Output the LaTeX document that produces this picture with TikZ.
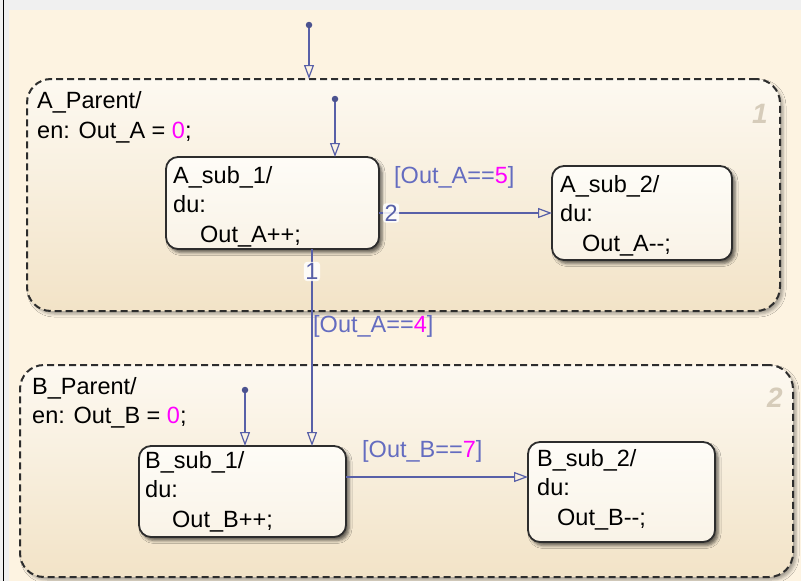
\documentclass[tikz,border=0pt]{standalone}
\usepackage{fontspec}
\setmainfont{Liberation Sans}
\usetikzlibrary{arrows.meta,shadows.blur}
\definecolor{bgcream}{RGB}{253,243,225}
\definecolor{bandgray}{RGB}{240,240,240}
\definecolor{ptop}{RGB}{253,249,241}
\definecolor{pbot}{RGB}{242,227,199}
\definecolor{stop}{RGB}{254,252,247}
\definecolor{sbot}{RGB}{249,243,231}
\definecolor{edge}{RGB}{45,45,45}
\definecolor{transc}{RGB}{88,96,168}
\definecolor{lblc}{RGB}{100,108,192}
\definecolor{mag}{RGB}{255,0,255}
\definecolor{ordnum}{RGB}{214,204,186}
\begin{document}
\begin{tikzpicture}[x=1pt,y=-1pt,
  every node/.style={font=\fontsize{23.5}{29.5}\selectfont},
  parentbox/.style 2 args={draw=edge, line width=2pt, dash pattern=on 7pt off 4pt,
    rounded corners=24pt, top color=ptop, bottom color=pbot, anchor=north west,
    inner sep=0pt, outer sep=0pt, minimum width=#1, minimum height=#2,
    blur shadow={shadow xshift=3pt, shadow yshift=-3pt, shadow blur radius=3pt, shadow opacity=35}},
  subbox/.style 2 args={draw=edge, line width=1.8pt, rounded corners=12pt,
    top color=stop, bottom color=sbot, anchor=north west,
    inner sep=0pt, outer sep=0pt, minimum width=#1, minimum height=#2,
    blur shadow={shadow xshift=3pt, shadow yshift=-3.5pt, shadow blur radius=3pt, shadow opacity=60}},
  txt/.style={anchor=base west, inner sep=0pt, text=black},
  lbl/.style={anchor=base west, inner sep=0pt, text=lblc},
  numlbl/.style={fill=white, fill opacity=0.85, text opacity=1, text=transc, inner sep=1.5pt, rounded corners=3pt},
  ordn/.style={font=\fontsize{28}{28}\selectfont\bfseries\itshape, text=ordnum, inner sep=0pt},
  dotnode/.style={circle, fill=transc!85!black, inner sep=0pt, minimum size=6.5pt},
  trans/.style={draw=transc, line width=1.3pt, -{Triangle[open, length=14pt, width=10pt, line width=1.2pt]}},
]
\useasboundingbox (0,0) rectangle (801,581);
\fill[bandgray] (0,0) rectangle (801,581);
\fill[bgcream] (9,10) rectangle (801,581);
\draw[black, line width=1.2pt] (3.6,0) -- (3.6,581);

% parents
\node[parentbox={753pt}{232pt}] (Ap) at (27,79) {};
\node[parentbox={773pt}{212pt}] (Bp) at (20,365) {};
\node[ordn] (o1) at (760,114) {1};
\node[ordn] (o2) at (775,398) {2};

% substates
\node[subbox={213pt}{92pt}] (As1) at (166,157) {};
\node[subbox={180pt}{94pt}] (As2) at (552,166) {};
\node[subbox={207pt}{91pt}] (Bs1) at (139,446) {};
\node[subbox={187pt}{100pt}] (Bs2) at (528,442) {};

% texts
\node[txt] (tAp) at (37,108) {\begin{tabular}[t]{@{}l@{}}A\_Parent/\\[0.5pt]en: Out\_A = \textcolor{mag}{0};\end{tabular}};
\node[txt] (tBp) at (32,394) {\begin{tabular}[t]{@{}l@{}}B\_Parent/\\en: Out\_B = \textcolor{mag}{0};\end{tabular}};
\node[txt] (tAs1) at (173,183) {\begin{tabular}[t]{@{}l@{}}A\_sub\_1/\\du:\\\hspace*{27pt}Out\_A++;\end{tabular}};
\node[txt] (tAs2) at (560,192) {\begin{tabular}[t]{@{}l@{}}A\_sub\_2/\\du:\\\hspace*{22pt}Out\_A-{}-;\end{tabular}};
\node[txt] (tBs1) at (145,468) {\begin{tabular}[t]{@{}l@{}}B\_sub\_1/\\du:\\\hspace*{27pt}Out\_B++;\end{tabular}};
\node[txt] (tBs2) at (537,466) {\begin{tabular}[t]{@{}l@{}}B\_sub\_2/\\du:\\\hspace*{20pt}Out\_B-{}-;\end{tabular}};

% default transitions
\node[dotnode] (d0) at (309,25) {};
\node[dotnode] (d1) at (335,99) {};
\node[dotnode] (d2) at (245,390) {};
\draw[trans] (d0) -- (d0 |- Ap.north);
\draw[trans] (d1) -- (d1 |- As1.north);
\draw[trans] (d2) -- (d2 |- Bs1.north);

% transitions
\coordinate (t1) at (312,0);
\coordinate (tA) at (0,213);
\coordinate (tB) at (0,477);
\draw[trans] (As1.south -| t1) -- node[numlbl, pos=0.114] (n1) {1} (Bs1.north -| t1);
\draw[trans] (As1.east |- tA) -- node[numlbl, pos=0.07] (n2) {2} (As2.west |- tA);
\draw[trans] (Bs1.east |- tB) -- (Bs2.west |- tB);

% guard labels
\node[lbl] (gA5) at (394,183) {[Out\_A==\textcolor{mag}{5}]};
\node[lbl] (gA4) at (313,332) {[Out\_A==\textcolor{mag}{4}]};
\node[lbl] (gB7) at (362,457) {[Out\_B==\textcolor{mag}{7}]};
\end{tikzpicture}
\end{document}
